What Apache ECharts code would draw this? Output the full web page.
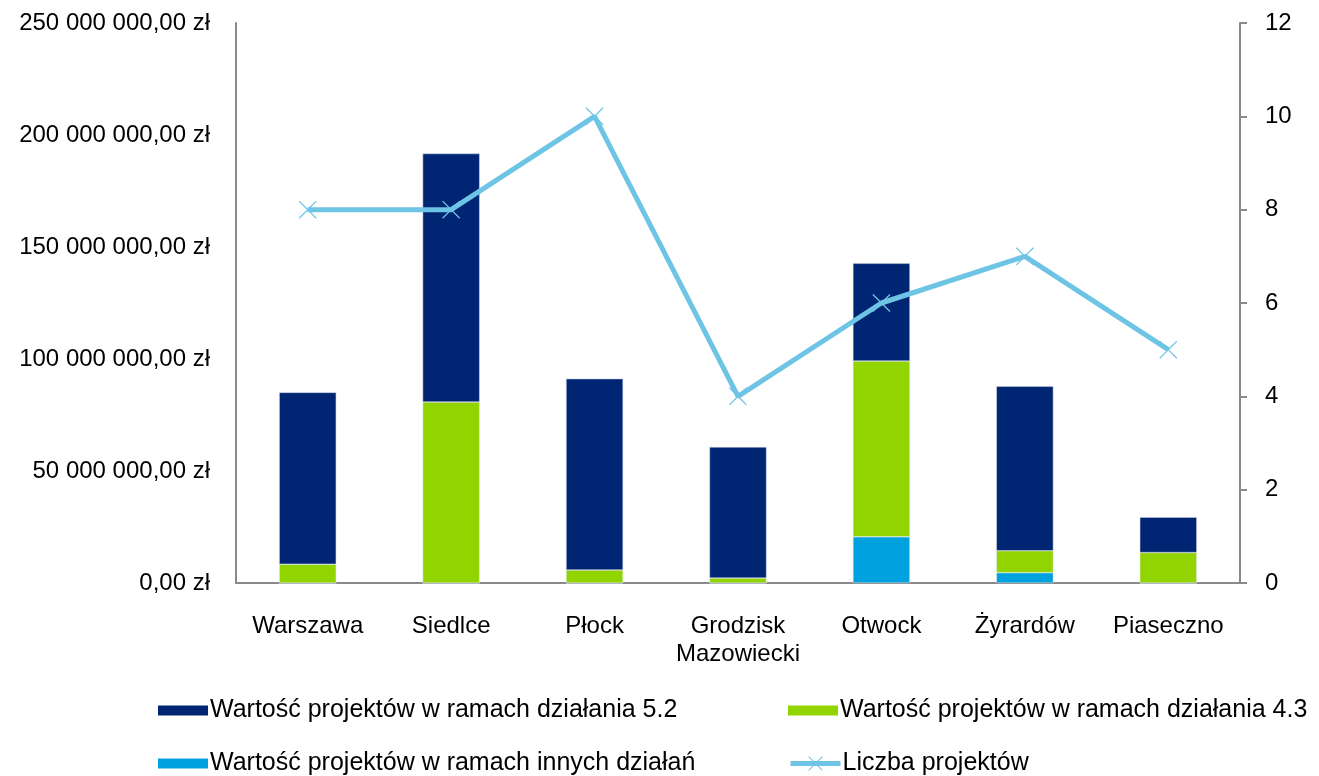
<!DOCTYPE html>
<html>
<head>
<meta charset="utf-8">
<script src="https://cdn.jsdelivr.net/npm/echarts@6/dist/echarts.min.js"></script>
<style>
  html, body { margin: 0; padding: 0; background: #fff; }
  #chart { width: 1319px; height: 776px; }
</style>
</head>
<body>
<div id="chart"></div>
<script>
// miasta
const categories = ['Warszawa', 'Siedlce', 'Płock', 'Grodzisk\nMazowiecki', 'Otwock', 'Żyrardów', 'Piaseczno'];

// wartości w zł
const valueOther = [0, 0, 0, 0, 20600000, 4600000, 0];
const value43 = [8400000, 80800000, 5800000, 2200000, 78500000, 9800000, 13600000];
const value52 = [76700000, 110900000, 85400000, 58500000, 43600000, 73400000, 15800000];
const projectCount = [8, 8, 10, 4, 6, 7, 5];

const leftTicks = { min: 0, max: 250000000, interval: 50000000 };
const rightTicks = { min: 0, max: 12, interval: 2 };

const names = [
  'Wartość projektów w ramach działania 5.2',
  'Wartość projektów w ramach działania 4.3',
  'Wartość projektów w ramach innych działań',
  'Liczba projektów'
];

const FONT = '"Liberation Sans", Arial, sans-serif';
const AXIS_GRAY = '#8a8a8a';
const LINE_BLUE = '#6ec4e4';
const crossPath = 'path://M0,1L1,0L10,9L19,0L20,1L11,10L20,19L19,20L10,11L1,20L0,19L9,10Z';

const zl = v => String(v).replace(/\B(?=(\d{3})+(?!\d))/g, ' ') + ',00 zł';

const chart = echarts.init(document.getElementById('chart'));

const legendItem = (name, left, top, isLine) => ({
  data: [name],
  left: left,
  top: top,
  icon: isLine ? undefined : 'rect',
  itemWidth: 50,
  itemHeight: isLine ? 18 : 10,
  itemGap: 0,
  padding: 0,
  selectedMode: false,
  itemStyle: { borderWidth: 0 },
  lineStyle: { width: 5 },
  textStyle: { fontFamily: FONT, fontSize: 25, color: '#000', padding: [0, 0, 0, -3] }
});

chart.setOption({
  animation: false,
  textStyle: { fontFamily: FONT },
  grid: { left: 236, right: 79, top: 23, bottom: 193 },
  legend: [
    legendItem(names[0], 158, 698),
    legendItem(names[1], 788, 698),
    legendItem(names[2], 158, 751),
    legendItem(names[3], 788, 751, true)
  ],
  xAxis: {
    type: 'category',
    data: categories,
    axisLine: { lineStyle: { color: AXIS_GRAY, width: 2 } },
    axisTick: { show: false },
    axisLabel: { color: '#000', fontSize: 24, margin: 29, lineHeight: 28, interval: 0 }
  },
  yAxis: [
    {
      type: 'value',
      min: leftTicks.min,
      max: leftTicks.max,
      interval: leftTicks.interval,
      splitLine: { show: false },
      axisLine: { show: true, lineStyle: { color: AXIS_GRAY, width: 2 } },
      axisTick: { show: false },
      axisLabel: { color: '#000', fontSize: 24, margin: 26, formatter: zl }
    },
    {
      type: 'value',
      position: 'right',
      min: rightTicks.min,
      max: rightTicks.max,
      interval: rightTicks.interval,
      splitLine: { show: false },
      axisLine: { show: true, lineStyle: { color: AXIS_GRAY, width: 2 } },
      axisTick: { show: true, length: 7, lineStyle: { color: AXIS_GRAY, width: 2 } },
      axisLabel: { color: '#000', fontSize: 24, margin: 25 }
    }
  ],
  series: [
    {
      name: names[2],
      type: 'bar',
      stack: 'v',
      barWidth: 57,
      data: valueOther,
      itemStyle: { color: '#00a1df', borderColor: '#dde6f0', borderWidth: 0.5 }
    },
    {
      name: names[1],
      type: 'bar',
      stack: 'v',
      barWidth: 57,
      data: value43,
      itemStyle: { color: '#92d400', borderColor: '#dde6f0', borderWidth: 0.5 }
    },
    {
      name: names[0],
      type: 'bar',
      stack: 'v',
      barWidth: 57,
      data: value52,
      itemStyle: { color: '#002673', borderColor: '#c8d0e0', borderWidth: 0.5 }
    },
    {
      name: names[3],
      type: 'line',
      yAxisIndex: 1,
      data: projectCount,
      symbol: crossPath,
      symbolSize: 18,
      lineStyle: { color: LINE_BLUE, width: 5 },
      itemStyle: { color: LINE_BLUE },
      z: 5
    }
  ]
});

window.addEventListener('resize', () => {
  chart.resize();
});
</script>
</body>
</html>
